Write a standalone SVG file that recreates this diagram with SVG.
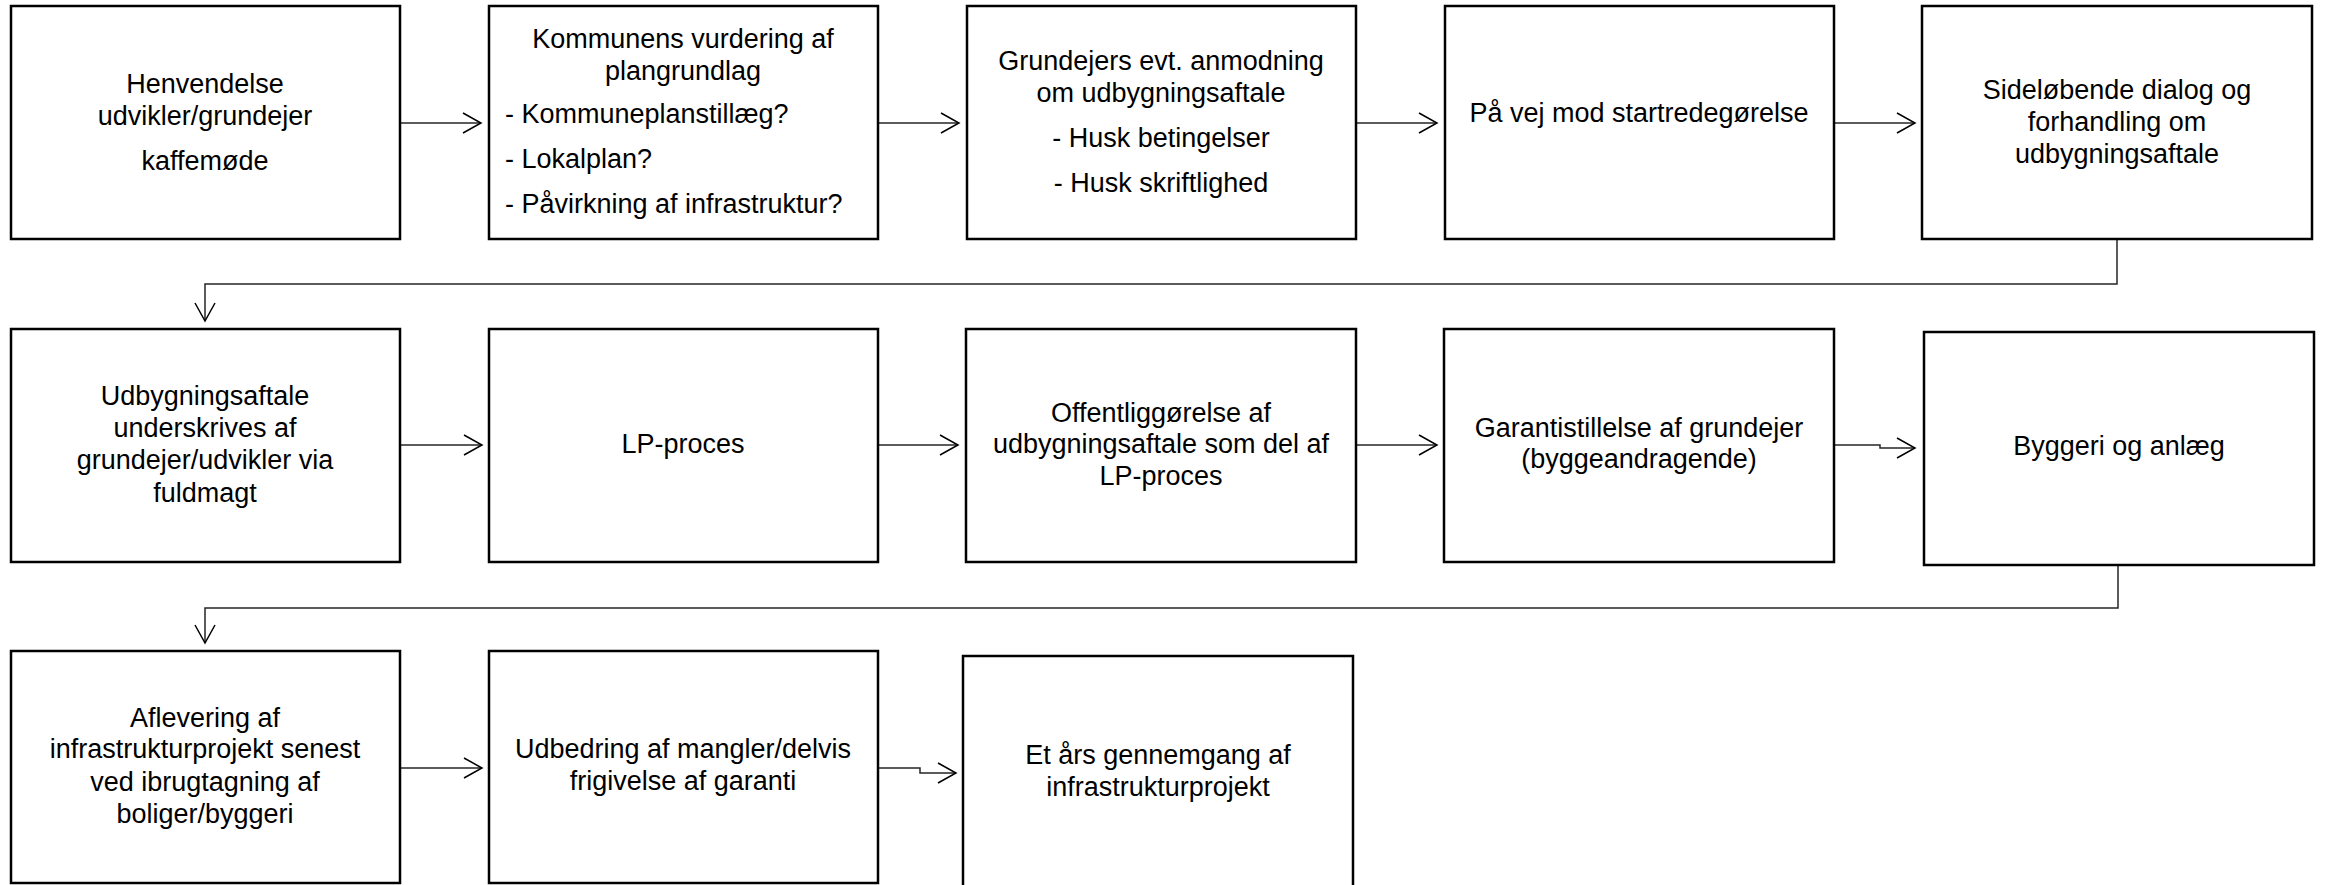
<svg xmlns="http://www.w3.org/2000/svg" width="2325" height="885" viewBox="0 0 2325 885">
<style>
.box{fill:#fff;stroke:#000;stroke-width:2.5}
.t{font-family:"Liberation Sans",Arial,sans-serif;font-size:27px;fill:#000;text-anchor:middle}
.l{text-anchor:start}
.c{fill:none;stroke:#262626;stroke-width:1.5}
</style>
<defs>
<marker id="arr" markerUnits="userSpaceOnUse" markerWidth="22" markerHeight="24" viewBox="0 0 22 24" refX="20" refY="12" orient="auto">
<path d="M2,2 L20,12 L2,22" fill="none" stroke="#000" stroke-width="1.5"/>
</marker>
</defs>
<rect width="2325" height="885" fill="#fff"/>
<g id="connectors">
<path class="c" d="M400,123 H481" marker-end="url(#arr)"/>
<path class="c" d="M878,123 H959" marker-end="url(#arr)"/>
<path class="c" d="M1356,123 H1437" marker-end="url(#arr)"/>
<path class="c" d="M1834,123 H1915" marker-end="url(#arr)"/>
<path class="c" d="M2117,239 V284 H205 V321" marker-end="url(#arr)"/>
<path class="c" d="M400,445 H482" marker-end="url(#arr)"/>
<path class="c" d="M878,445 H958" marker-end="url(#arr)"/>
<path class="c" d="M1356,445 H1437" marker-end="url(#arr)"/>
<path class="c" d="M1834,445 H1880 V448 H1915" marker-end="url(#arr)"/>
<path class="c" d="M2118,565 V608 H205 V643" marker-end="url(#arr)"/>
<path class="c" d="M400,768 H482" marker-end="url(#arr)"/>
<path class="c" d="M878,768 H920 V773 H956" marker-end="url(#arr)"/>
</g>
<g id="n1">
<rect class="box" x="11" y="6" width="389" height="233"/>
<text class="t" x="205" y="93">Henvendelse</text>
<text class="t" x="205" y="125">udvikler/grundejer</text>
<text class="t" x="205" y="170">kaffemøde</text>
</g>
<g id="n2">
<rect class="box" x="489" y="6" width="389" height="233"/>
<text class="t" x="683" y="48">Kommunens vurdering af</text>
<text class="t" x="683" y="80">plangrundlag</text>
<text class="t l" x="505" y="123">- Kommuneplanstillæg?</text>
<text class="t l" x="505" y="168">- Lokalplan?</text>
<text class="t l" x="505" y="213">- Påvirkning af infrastruktur?</text>
</g>
<g id="n3">
<rect class="box" x="967" y="6" width="389" height="233"/>
<text class="t" x="1161" y="70">Grundejers evt. anmodning</text>
<text class="t" x="1161" y="102">om udbygningsaftale</text>
<text class="t" x="1161" y="147">- Husk betingelser</text>
<text class="t" x="1161" y="192">- Husk skriftlighed</text>
</g>
<g id="n4">
<rect class="box" x="1445" y="6" width="389" height="233"/>
<text class="t" x="1639" y="122">På vej mod startredegørelse</text>
</g>
<g id="n5">
<rect class="box" x="1922" y="6" width="390" height="233"/>
<text class="t" x="2117" y="99">Sideløbende dialog og</text>
<text class="t" x="2117" y="131">forhandling om</text>
<text class="t" x="2117" y="163">udbygningsaftale</text>
</g>
<g id="n6">
<rect class="box" x="11" y="329" width="389" height="233"/>
<text class="t" x="205" y="405">Udbygningsaftale</text>
<text class="t" x="205" y="437">underskrives af</text>
<text class="t" x="205" y="469">grundejer/udvikler via</text>
<text class="t" x="205" y="502">fuldmagt</text>
</g>
<g id="n7">
<rect class="box" x="489" y="329" width="389" height="233"/>
<text class="t" x="683" y="453">LP-proces</text>
</g>
<g id="n8">
<rect class="box" x="966" y="329" width="390" height="233"/>
<text class="t" x="1161" y="422">Offentliggørelse af</text>
<text class="t" x="1161" y="453">udbygningsaftale som del af</text>
<text class="t" x="1161" y="485">LP-proces</text>
</g>
<g id="n9">
<rect class="box" x="1444" y="329" width="390" height="233"/>
<text class="t" x="1639" y="437">Garantistillelse af grundejer</text>
<text class="t" x="1639" y="468">(byggeandragende)</text>
</g>
<g id="n10">
<rect class="box" x="1924" y="332" width="390" height="233"/>
<text class="t" x="2119" y="455">Byggeri og anlæg</text>
</g>
<g id="n11">
<rect class="box" x="11" y="651" width="389" height="232"/>
<text class="t" x="205" y="727">Aflevering af</text>
<text class="t" x="205" y="758">infrastrukturprojekt senest</text>
<text class="t" x="205" y="791">ved ibrugtagning af</text>
<text class="t" x="205" y="823">boliger/byggeri</text>
</g>
<g id="n12">
<rect class="box" x="489" y="651" width="389" height="232"/>
<text class="t" x="683" y="758">Udbedring af mangler/delvis</text>
<text class="t" x="683" y="790">frigivelse af garanti</text>
</g>
<g id="n13">
<rect class="box" x="963" y="656" width="390" height="236"/>
<text class="t" x="1158" y="764">Et års gennemgang af</text>
<text class="t" x="1158" y="796">infrastrukturprojekt</text>
</g>
</svg>
